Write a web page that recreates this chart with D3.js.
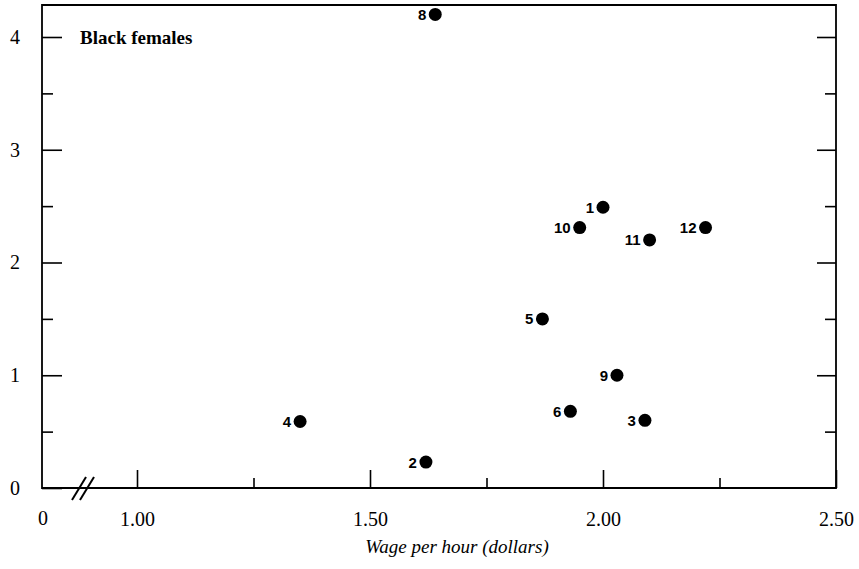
<!DOCTYPE html>
<html>
<head>
<meta charset="utf-8">
<script src="https://cdn.jsdelivr.net/npm/d3@7"></script>
<style>
  body { margin: 0; background: #fff; }
  svg { display: block; }
</style>
</head>
<body>
<div class="chart"></div>
<script>
// points: number label, wage (dollars), y value
// (there is no point 7 in the picture)
const ids = ["1", "2", "3", "4", "5", "6", "8", "9", "10", "11", "12"];
const wages = [2.00, 1.62, 2.09, 1.35, 1.87, 1.93, 1.64, 2.03, 1.95, 2.10, 2.22];
const values = [2.49, 0.23, 0.60, 0.59, 1.50, 0.68, 4.20, 1.00, 2.31, 2.20, 2.31];

const xMajor = [1.00, 1.50, 2.00, 2.50];
const xMinor = [1.25, 1.75, 2.25];
const yMajor = [0, 1, 2, 3, 4];
const yMinor = [0.5, 1.5, 2.5, 3.5];

const W = 859, H = 569;
const margin = { left: 42, right: 836, top: 5, bottom: 488 };

const svg = d3.select('.chart')
  .append('svg')
  .attr('width', W)
  .attr('height', H);

// x has a break: 0 sits at the left edge, the scale starts at 1.00
const x = d3.scaleLinear()
  .domain([1.0, 2.5])
  .range([137, margin.right]);

const y = d3.scaleLinear()
  .domain([0, 4])
  .range([margin.bottom, 37]);

const serif = '"Liberation Serif", "Times New Roman", serif';

//ticks point inward
const xAxisMajor = d3.axisBottom(x)
  .tickValues(xMajor)
  .tickSizeInner(-18)
  .tickSizeOuter(0)
  .tickPadding(24)
  .tickFormat(d3.format('.2f'));

const xAxisMinor = d3.axisBottom(x)
  .tickValues(xMinor)
  .tickSizeInner(-10)
  .tickSizeOuter(0)
  .tickFormat('');

const yAxisMajor = d3.axisLeft(y)
  .tickValues(yMajor)
  .tickSizeInner(-20)
  .tickSizeOuter(0)
  .tickPadding(22)
  .tickFormat(d3.format('d'));

const yAxisMinor = d3.axisLeft(y)
  .tickValues(yMinor)
  .tickSizeInner(-11)
  .tickSizeOuter(0)
  .tickFormat('');

const yRightMajor = d3.axisRight(y)
  .tickValues(yMajor.slice(1))
  .tickSizeInner(-19)
  .tickSizeOuter(0)
  .tickFormat('');

const yRightMinor = d3.axisRight(y)
  .tickValues(yMinor)
  .tickSizeInner(-11)
  .tickSizeOuter(0)
  .tickFormat('');

function drawAxis(axis, tx, ty) {
  const g = svg.append('g')
    .attr('transform', `translate(${tx},${ty})`)
    .call(axis);
  g.select('.domain').remove();
  g.selectAll('line').attr('stroke', '#000').attr('stroke-width', 1.6);
  g.selectAll('text')
    .attr('fill', '#000')
    .style('font-family', serif)
    .style('font-size', '20px');
  return g;
}

drawAxis(xAxisMajor, 0, margin.bottom);
drawAxis(xAxisMinor, 0, margin.bottom);
drawAxis(yAxisMajor, margin.left, 0);
drawAxis(yAxisMinor, margin.left, 0);
drawAxis(yRightMajor, margin.right, 0);
drawAxis(yRightMinor, margin.right, 0);

// frame
svg.append('path')
  .attr('d', `M${margin.left},${margin.top}H${margin.right}V${margin.bottom}H${margin.left}Z`)
  .attr('fill', 'none')
  .attr('stroke', '#000')
  .attr('stroke-width', 1.8);

// axis break marks
[0, 8].forEach(off => {
  svg.append('line')
    .attr('x1', 72 + off).attr('y1', 500)
    .attr('x2', 86 + off).attr('y2', 477)
    .attr('stroke', '#000')
    .attr('stroke-width', 2);
});

// the "0" under the break
svg.append('text')
  .attr('x', margin.left + 1)
  .attr('y', 525)
  .attr('text-anchor', 'middle')
  .style('font-family', serif)
  .style('font-size', '20px')
  .text('0');

// x axis title
svg.append('text')
  .attr('x', 457)
  .attr('y', 553)
  .attr('text-anchor', 'middle')
  .style('font-family', serif)
  .style('font-style', 'italic')
  .style('font-size', '19px')
  .text('Wage per hour (dollars)');

svg.append('text')
  .attr('x', 80)
  .attr('y', 44)
  .style('font-family', serif)
  .style('font-weight', 'bold')
  .style('font-size', '19px')
  .text('Black females');

const points = ids.map((id, i) => ({ id: id, wage: wages[i], value: values[i] }));

svg.selectAll('circle.pt')
  .data(points)
  .enter()
  .append('circle')
  .attr('class', 'pt')
  .attr('cx', d => x(d.wage))
  .attr('cy', d => y(d.value))
  .attr('r', 6.5)
  .attr('fill', '#000');

svg.selectAll('text.lbl')
  .data(points)
  .enter()
  .append('text')
  .attr('class', 'lbl')
  .attr('x', d => x(d.wage) - 9)
  .attr('y', d => y(d.value) + 5.5)
  .attr('text-anchor', 'end')
  .style('font-family', '"Liberation Sans", Arial, sans-serif')
  .style('font-weight', 'bold')
  .style('font-size', '15px')
  .text(d => d.id);
</script>
</body>
</html>
